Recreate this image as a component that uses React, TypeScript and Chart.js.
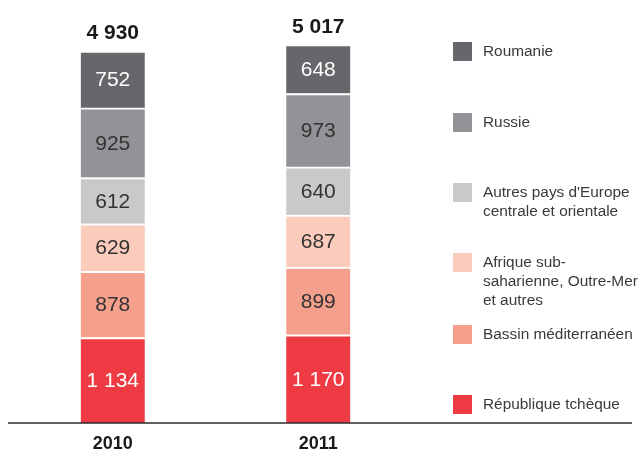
import React, { useEffect, useRef } from "react";
import { Chart, registerables } from "chart.js";

Chart.register(...registerables);

// ---- Data ----
const years = ["2010", "2011"];
const seriesNames = [
  "République tchèque",
  "Bassin méditerranéen",
  "Afrique sub-saharienne, Outre-Mer et autres",
  "Autres pays d'Europe centrale et orientale",
  "Russie",
  "Roumanie",
];
const republiqueTcheque = [1134, 1170];
const bassinMediterraneen = [878, 899];
const afriqueSubsaharienne = [629, 687];
const autresEurope = [612, 640];
const russie = [925, 973];
const roumanie = [752, 648];
const totals = [4930, 5017];

// legend text, as broken into lines in the reference (top to bottom)
const legendLines: string[][] = [
  ["Roumanie"],
  ["Russie"],
  ["Autres pays d'Europe", "centrale et orientale"],
  ["Afrique sub-", "saharienne, Outre-Mer", "et autres"],
  ["Bassin méditerranéen"],
  ["République tchèque"],
];

// ---- Styles ----
const seriesColors = ["#ee3a43", "#f5a08c", "#fbcbbb", "#c8c9cb", "#929397", "#67676b"];
const labelColors = ["#ffffff", "#333333", "#333333", "#333333", "#333333", "#ffffff"];
const legendColors = ["#67676b", "#929397", "#c8c9cb", "#fbcbbb", "#f5a08c", "#ee3a43"];
const legendTops = [42, 113, 183, 253, 325, 395];

const FONT = '"Liberation Sans", Arial, Helvetica, sans-serif';

const fmt = (v: number) => String(v).replace(/\B(?=(\d{3})+(?!\d))/g, " ");

const labelsPlugin = {
  id: "segmentLabels",
  afterDatasetsDraw(chart: any) {
    const ctx = chart.ctx;
    ctx.save();
    ctx.textAlign = "center";
    chart.data.datasets.forEach((ds: any, i: number) => {
      const meta = chart.getDatasetMeta(i);
      meta.data.forEach((bar: any, j: number) => {
        const p = bar.getProps(["x", "y", "base"], true);
        ctx.fillStyle = labelColors[i];
        ctx.font = `300 21px ${FONT}`;
        ctx.textBaseline = "middle";
        ctx.fillText(fmt(ds.data[j]), p.x, (p.y + p.base) / 2 + 1);
      });
    });
    const top = chart.getDatasetMeta(chart.data.datasets.length - 1);
    top.data.forEach((bar: any, j: number) => {
      const p = bar.getProps(["x", "y"], true);
      ctx.fillStyle = "#1a1a1a";
      ctx.font = `bold 21px ${FONT}`;
      ctx.textBaseline = "alphabetic";
      ctx.fillText(fmt(totals[j]), p.x, p.y - 12);
    });
    const yb = chart.scales.y.getPixelForValue(0);
    ctx.strokeStyle = "#2b2b2b";
    ctx.lineWidth = 1.6;
    ctx.beginPath();
    ctx.moveTo(8, yb);
    ctx.lineTo(632, yb);
    ctx.stroke();
    ctx.restore();
  },
};

export default function App() {
  const canvasRef = useRef<HTMLCanvasElement | null>(null);

  useEffect(() => {
    const values = [
      republiqueTcheque,
      bassinMediterraneen,
      afriqueSubsaharienne,
      autresEurope,
      russie,
      roumanie,
    ];
    const chart = new Chart(canvasRef.current as HTMLCanvasElement, {
      type: "bar",
      data: {
        labels: years,
        datasets: values.map((d, i) => ({
          label: seriesNames[i],
          data: d,
          backgroundColor: seriesColors[i],
          borderColor: "#ffffff",
          borderWidth: { top: 2, left: 0, right: 0, bottom: 0 },
          borderSkipped: false,
          barThickness: 64,
        })),
      },
      options: {
        animation: false,
        responsive: true,
        maintainAspectRatio: false,
        layout: { padding: { left: 10, right: 219, top: 18, bottom: 0 } },
        plugins: { legend: { display: false }, tooltip: { enabled: false } },
        scales: {
          x: {
            stacked: true,
            offset: true,
            grid: { display: false, drawTicks: false },
            border: { display: false },
            ticks: {
              color: "#1a1a1a",
              font: { family: FONT, size: 18, weight: "bold" },
              padding: 10,
            },
            afterFit: (scale: any) => {
              scale.height = 30;
            },
          },
          y: {
            stacked: true,
            display: false,
            min: 0,
            max: 5370,
          },
        },
      },
      plugins: [labelsPlugin],
    } as any);
    return () => chart.destroy();
  }, []);

  return (
    <div
      style={{
        position: "fixed",
        left: 0,
        top: 0,
        width: 640,
        height: 453,
        background: "#fff",
        fontFamily: FONT,
      }}
    >
      <canvas ref={canvasRef} />
      {legendLines.map((lines, i) => (
        <div
          key={i}
          style={{ position: "absolute", left: 453, top: legendTops[i], display: "flex" }}
        >
          <div style={{ width: 19, height: 19, background: legendColors[i], flex: "none" }} />
          <div
            style={{
              marginLeft: 11,
              marginTop: -1,
              fontSize: 15.4,
              lineHeight: "19px",
              color: "#3a3a3a",
              whiteSpace: "nowrap",
            }}
          >
            {lines.map((l, k) => (
              <div key={k}>{l}</div>
            ))}
          </div>
        </div>
      ))}
    </div>
  );
}
